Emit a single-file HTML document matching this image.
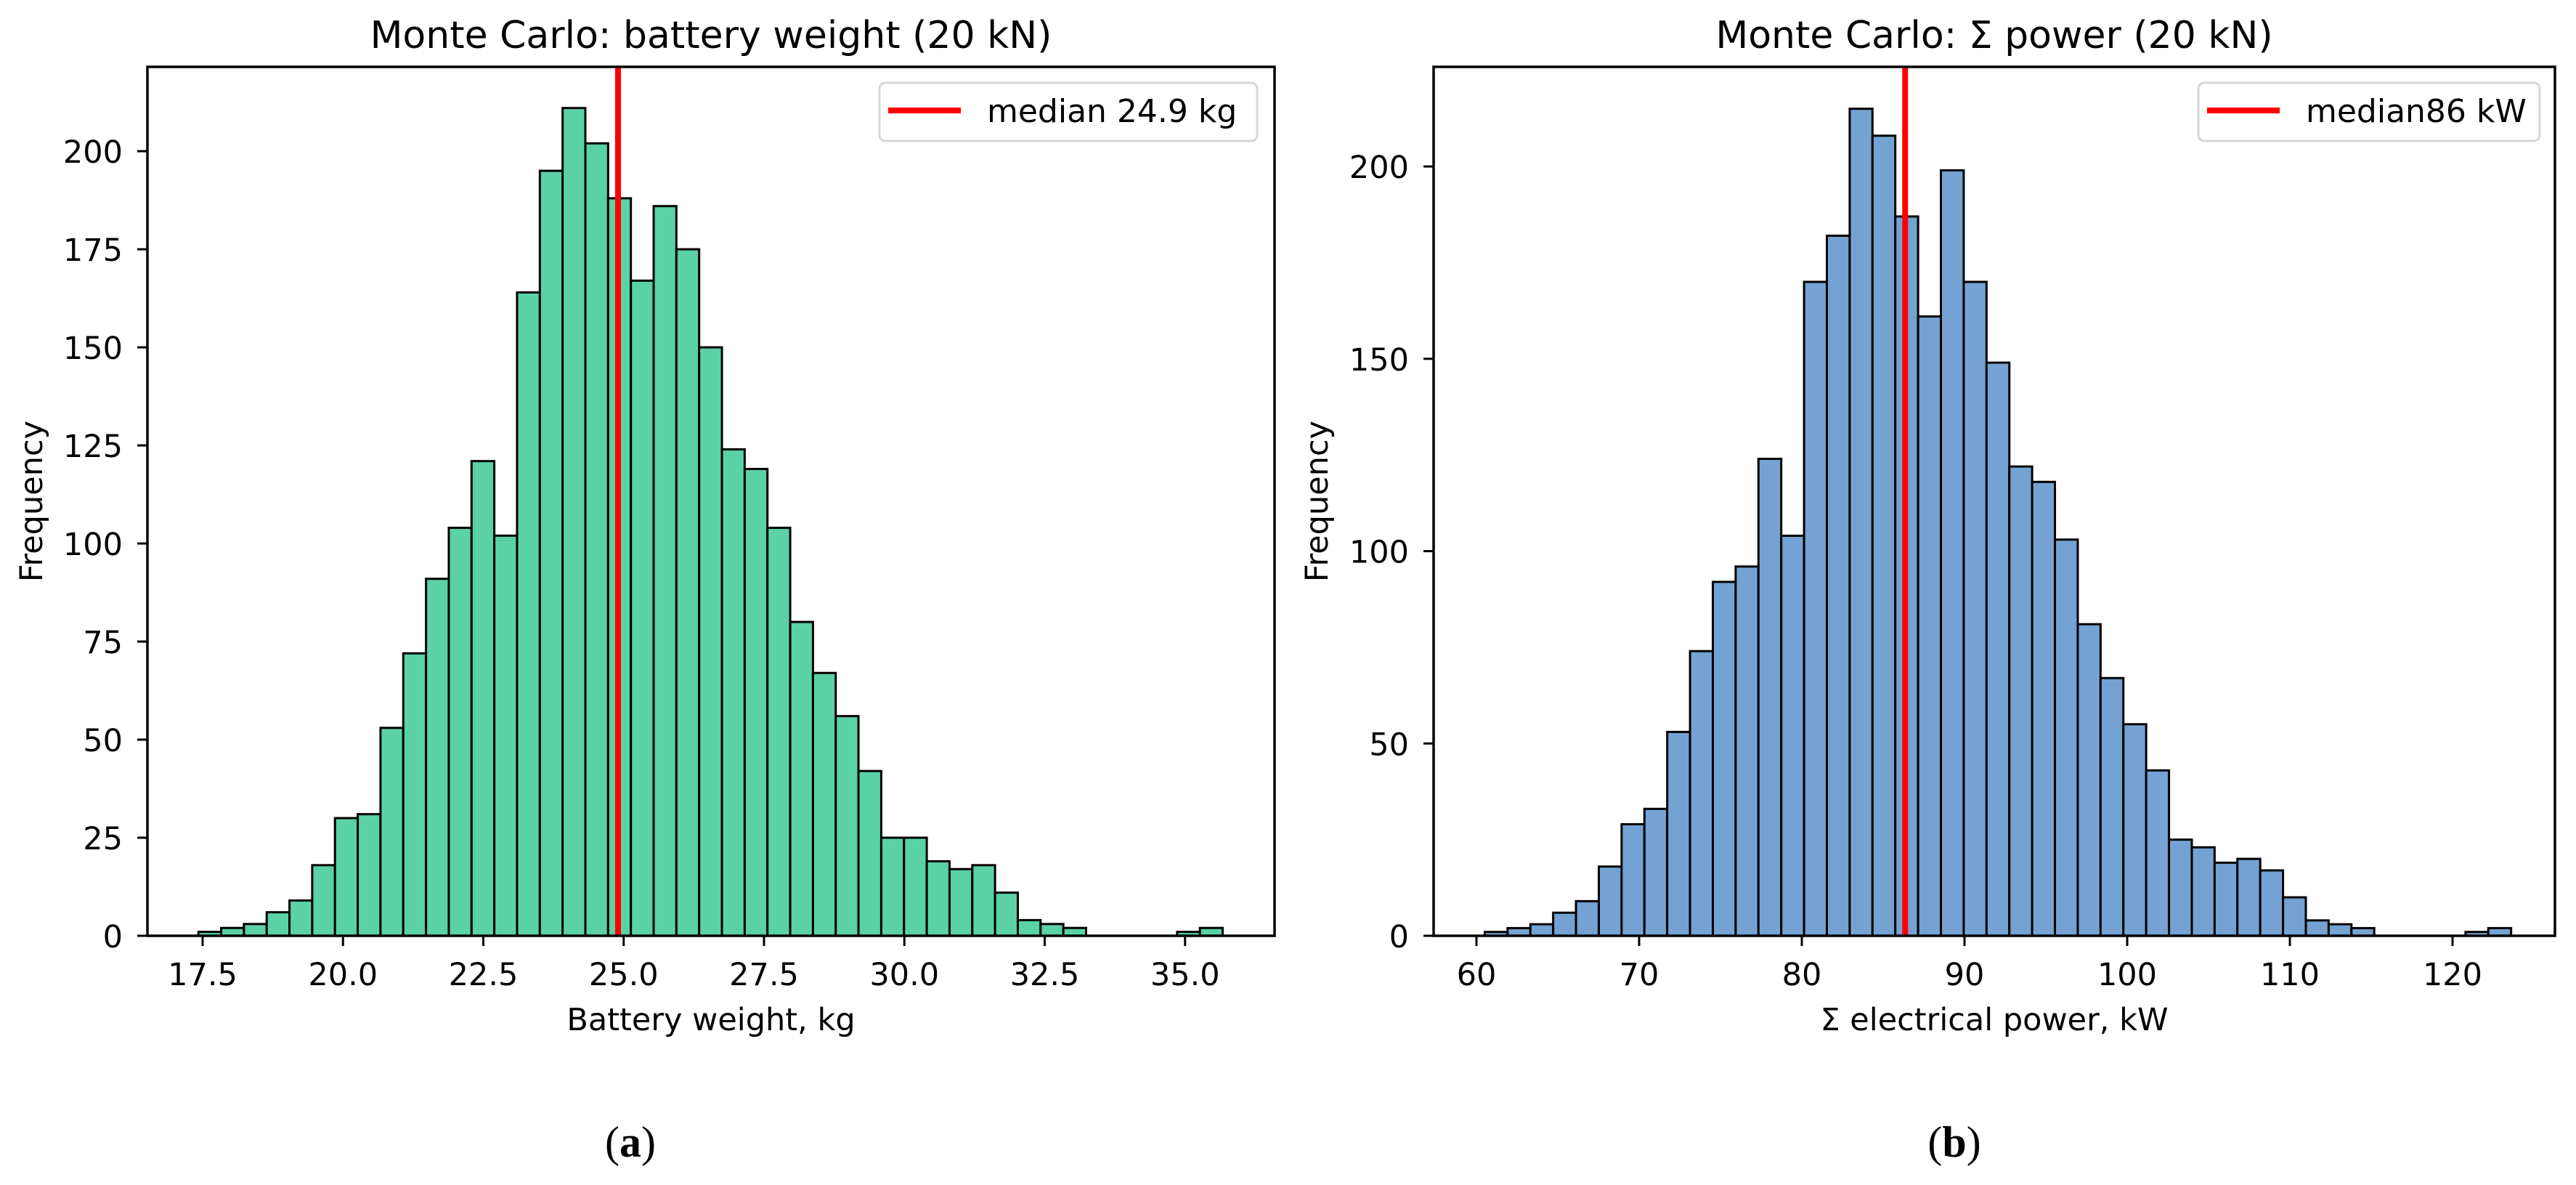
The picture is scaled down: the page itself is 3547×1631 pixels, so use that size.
<!DOCTYPE html>
<html><head><meta charset="utf-8"><style>
html,body{margin:0;padding:0;background:#fff}
svg{display:block}
text{font-family:"DejaVu Sans","Liberation Sans",sans-serif;fill:#000}
</style></head><body>
<svg id="fig" width="3547" height="1631" viewBox="0 0 3547 1631" xmlns="http://www.w3.org/2000/svg">
<g id="pa"></g>
<g id="pb"></g>
<text x="868" y="1592" text-anchor="middle" style="font-family:'Liberation Serif',serif;font-size:60px">(<tspan font-weight="bold">a</tspan>)</text>
<text x="2691" y="1592" text-anchor="middle" style="font-family:'Liberation Serif',serif;font-size:60px">(<tspan font-weight="bold">b</tspan>)</text>
</svg>
<script>
const countsA=[1,2,3,6,9,18,30,31,53,72,91,104,121,102,164,195,211,202,188,167,186,175,150,124,119,104,80,67,56,42,25,25,19,17,18,11,4,3,2,0,0,0,0,1,2];
const binStartA=17.425, binEndA=35.67;
const xTicksA=[17.5,20.0,22.5,25.0,27.5,30.0,32.5,35.0];
const xTickLabelsA=["17.5","20.0","22.5","25.0","27.5","30.0","32.5","35.0"];
const yTicksA=[0,25,50,75,100,125,150,175,200];
const medianA=24.9;
const countsB=[1,2,3,6,9,18,29,33,53,74,92,96,124,104,170,182,215,208,187,161,199,170,149,122,118,103,81,67,55,43,25,23,19,20,17,10,4,3,2,0,0,0,0,1,2];
const binStartB=60.51, binEndB=123.6;
const xTicksB=[60,70,80,90,100,110,120];
const xTickLabelsB=["60","70","80","90","100","110","120"];
const yTicksB=[0,50,100,150,200];
const medianB=86.35;
const NS="http://www.w3.org/2000/svg";
function mk(p,t,a){const e=document.createElementNS(NS,t);for(const k in a)e.setAttribute(k,a[k]);p.appendChild(e);return e;}
function panel(g,o){
  const sx=v=>o.L+(v-o.x0)*(o.R-o.L)/(o.x1-o.x0);
  const sy=v=>o.B-(v-0)*(o.B-o.T)/o.ymax;
  const n=o.counts.length,w=(o.bEnd-o.bStart)/n;
  o.counts.forEach((c,i)=>{
    const x0=sx(o.bStart+i*w),x1=sx(o.bStart+(i+1)*w);
    const r=mk(g,'rect',{x:x0,y:sy(c),width:x1-x0,height:sy(0)-sy(c),fill:o.color,stroke:'#000','stroke-width':3});
    
    
  });
  const ml=mk(g,'line',{x1:sx(o.median),x2:sx(o.median),y1:o.T,y2:o.B,stroke:'#ff0000','stroke-width':8});
  
  
  const fr=mk(g,'rect',{x:o.L,y:o.T,width:o.R-o.L,height:o.B-o.T,fill:'none',stroke:'#000','stroke-width':3.5});
  
  
  o.xt.forEach((v,i)=>{
    const x=sx(v);
    mk(g,'line',{x1:x,x2:x,y1:o.B,y2:o.B+14,stroke:'#000','stroke-width':3});
    const t=mk(g,'text',{x:x,y:o.B+68,'text-anchor':'middle','font-size':43});
    t.textContent=o.xl[i];
    
    
  });
  o.yt.forEach(v=>{
    const y=sy(v);
    mk(g,'line',{x1:o.L-14,x2:o.L,y1:y,y2:y,stroke:'#000','stroke-width':3});
    const t=mk(g,'text',{x:o.L-34,y:y+16,'text-anchor':'end','font-size':43});
    t.textContent=String(v);
    
    
  });
  const tt=mk(g,'text',{x:(o.L+o.R)/2,y:66,'text-anchor':'middle','font-size':52});
  tt.textContent=o.title;
  
  
  const xl=mk(g,'text',{x:(o.L+o.R)/2,y:1418,'text-anchor':'middle','font-size':43});
  xl.textContent=o.xlabel;
  
  
  const yl=mk(g,'text',{x:0,y:0,'text-anchor':'middle','font-size':43,transform:`translate(${o.ylx},${(o.T+o.B)/2}) rotate(-90)`});
  yl.textContent='Frequency';
  
  
  const lg=mk(g,'g',{});
  
  
  mk(lg,'rect',{x:o.lgx,y:114,width:o.lgw,height:80,rx:8,fill:'#fff',stroke:'#d6d6d6','stroke-width':3});
  mk(lg,'line',{x1:o.lgx+12,x2:o.lgx+112,y1:152,y2:152,stroke:'#ff0000','stroke-width':8});
  const lt=mk(lg,'text',{x:o.lgx+148,y:168,'font-size':44});
  lt.textContent=o.legend;
}
panel(document.getElementById('pa'),{L:203,R:1755,T:92,B:1288,x0:17.5-(279-203)/77.3,x1:17.5+(1755-279)/77.3,ymax:221.5,
  counts:countsA,bStart:binStartA,bEnd:binEndA,xt:xTicksA,xl:xTickLabelsA,yt:yTicksA,median:medianA,color:'#5AD2A6',
  title:'Monte Carlo: battery weight (20 kN)',xlabel:'Battery weight, kg',ylx:58,lgx:1211,lgw:520,legend:'median 24.9 kg'});
panel(document.getElementById('pb'),{L:1974,R:3518,T:92,B:1288,x0:60-(2033-1974)/22.4,x1:60+(3518-2033)/22.4,ymax:225.9,
  counts:countsB,bStart:binStartB,bEnd:binEndB,xt:xTicksB,xl:xTickLabelsB,yt:yTicksB,median:medianB,color:'#74A3D3',
  title:'Monte Carlo: \u03A3 power (20 kN)',xlabel:'\u03A3 electrical power, kW',ylx:1828,lgx:3027,lgw:470,legend:'median86 kW'});
</script>
</body></html>
